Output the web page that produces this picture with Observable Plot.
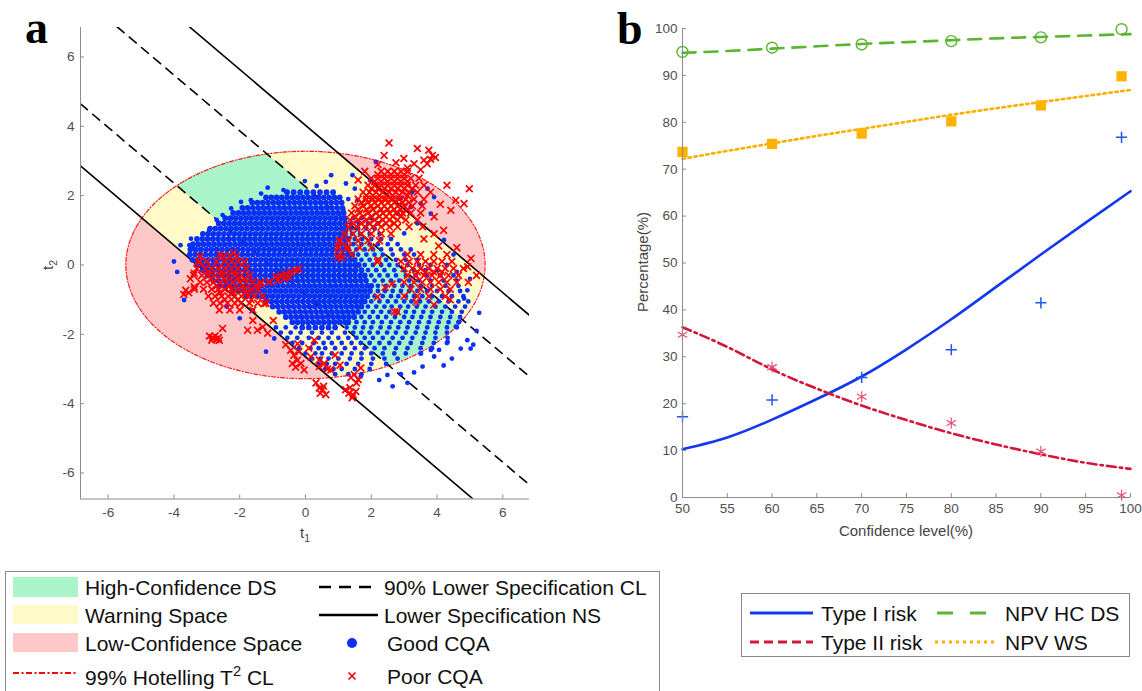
<!DOCTYPE html>
<html><head><meta charset="utf-8">
<script src="https://cdn.jsdelivr.net/npm/d3@7"></script>
<script src="https://cdn.jsdelivr.net/npm/@observablehq/plot@0.6"></script>
<style>
html,body{margin:0;padding:0;background:#fff}
body{width:1142px;height:691px;overflow:hidden;position:relative;font-family:"Liberation Sans",Arial,Helvetica,sans-serif}
.abs{position:absolute}
.letter{font-family:"Liberation Serif","Times New Roman",serif;font-weight:bold;font-size:46px;line-height:1;color:#000}
.axlab{font-size:15px;color:#444;white-space:nowrap;transform:translate(-50%,-50%)}
.axlab.rot{transform:translate(-50%,-50%) rotate(-90deg)}
.leg{border:1px solid #8a8a8a;background:#fff}
.lt{position:absolute;font-size:21px;line-height:1;color:#111;white-space:nowrap;transform:translateY(-50%)}
sub{font-size:70%;vertical-align:-0.35em}
sup{font-size:70%;vertical-align:0.55em}
</style></head><body>
<div id="pa" class="abs" style="left:0;top:0"></div>
<div id="pb" class="abs" style="left:580px;top:0"></div>
<div class="abs letter" style="left:25px;top:5px">a</div>
<div class="abs letter" style="left:617px;top:6px">b</div>
<div class="abs axlab" style="left:305px;top:534px">t<sub>1</sub></div>
<div class="abs axlab rot" style="left:49px;top:265px">t<sub>2</sub></div>
<div class="abs axlab" style="left:906px;top:530px">Confidence level(%)</div>
<div class="abs axlab rot" style="left:642px;top:262px">Percentage(%)</div>

<div class="abs leg" style="left:5px;top:571px;width:653px;height:140px">
  <svg class="abs" style="left:0;top:0" width="653" height="140">
    <rect x="7" y="5" width="65" height="20" fill="#a9f5c9"/>
    <rect x="7" y="33" width="65" height="19" fill="#fffac8"/>
    <rect x="7" y="61" width="65" height="19" fill="#ffc8c8"/>
    <line x1="7" x2="71" y1="101" y2="101" stroke="#ff0000" stroke-width="2" stroke-dasharray="6,2.5,2,2.5"/>
    <line x1="313" x2="372" y1="15" y2="15" stroke="#000" stroke-width="2.6" stroke-dasharray="12,8"/>
    <line x1="313" x2="372" y1="43" y2="43" stroke="#000" stroke-width="2.6"/>
    <circle cx="346" cy="71" r="5" fill="#0a2ff5"/>
    <path d="M342.5,100.5L349.5,107.5M349.5,100.5L342.5,107.5" stroke="#ff0000" stroke-width="1.7"/>
  </svg>
  <div class="lt" style="left:79px;top:15px">High-Confidence DS</div>
  <div class="lt" style="left:79px;top:43px">Warning Space</div>
  <div class="lt" style="left:79px;top:71px">Low-Confidence Space</div>
  <div class="lt" style="left:79px;top:104px">99% Hotelling T<sup>2</sup> CL</div>
  <div class="lt" style="left:378px;top:15px">90% Lower Specification CL</div>
  <div class="lt" style="left:378px;top:43px">Lower Specification NS</div>
  <div class="lt" style="left:381px;top:71px">Good CQA</div>
  <div class="lt" style="left:381px;top:104px">Poor CQA</div>
</div>

<div class="abs leg" style="left:741px;top:593px;width:387px;height:62px">
  <svg class="abs" style="left:0;top:0" width="387" height="62">
    <line x1="8" x2="71" y1="19" y2="19" stroke="#1238f0" stroke-width="3"/>
    <line x1="8" x2="71" y1="48" y2="48" stroke="#d4163c" stroke-width="3" stroke-dasharray="9,5"/>
    <line x1="195" x2="244" y1="19" y2="19" stroke="#5ab530" stroke-width="3" stroke-dasharray="16,17"/>
    <line x1="193" x2="256" y1="48" y2="48" stroke="#ffae00" stroke-width="3" stroke-dasharray="3,4"/>
  </svg>
  <div class="lt" style="left:79px;top:19px">Type I risk</div>
  <div class="lt" style="left:79px;top:48px">Type II risk</div>
  <div class="lt" style="left:263px;top:19px">NPV HC DS</div>
  <div class="lt" style="left:263px;top:48px">NPV WS</div>
</div>

<script>
// ---------------- Panel a data ----------------
const t1Ticks = [-6, -4, -2, 0, 2, 4, 6];
const t2Ticks = [-6, -4, -2, 0, 2, 4, 6];
const t1Domain = [-6.84, 6.81];
const t2Domain = [-6.75, 6.85];
const ellipseSemiAxes = [5.46, 3.28];   // 99% Hotelling T2 limit
const specSlope = -0.805;
const nsIntercepts = [-2.65, 4.03];     // Lower Specification NS
const clIntercepts = [-0.86, 2.26];     // 90% Lower Specification CL

// Good CQA (blue): rows of [t2, "t1 values"]
const goodCoreRows = [
 [2.10, "-0.56 -0.36 -0.16 0.04 0.24 0.44 0.64 0.84"],
 [1.95, "-1.2 -1.04 -0.88 -0.72 -0.56 -0.4 -0.24 -0.08 0.08 0.24 0.4 0.56 0.72 0.88 1.04"],
 [1.80, "-1.62 -1.46 -1.3 -1.14 -0.98 -0.82 -0.66 -0.5 -0.34 -0.18 -0.02 0.14 0.3 0.46 0.62 0.78 0.94 1.1"],
 [1.65, "-1.92 -1.76 -1.6 -1.44 -1.28 -1.12 -0.96 -0.8 -0.64 -0.48 -0.32 -0.16 0 0.16 0.32 0.48 0.64 0.8 0.96 1.12"],
 [1.50, "-2.2 -2.04 -1.88 -1.72 -1.56 -1.4 -1.24 -1.08 -0.92 -0.76 -0.6 -0.44 -0.28 -0.12 0.04 0.2 0.36 0.52 0.68 0.84 1.0 1.16"],
 [1.35, "-2.44 -2.28 -2.12 -1.96 -1.8 -1.64 -1.48 -1.32 -1.16 -1.0 -0.84 -0.68 -0.52 -0.36 -0.2 -0.04 0.12 0.28 0.44 0.6 0.76 0.92 1.08 1.2"],
 [1.20, "-2.64 -2.48 -2.32 -2.16 -2.0 -1.84 -1.68 -1.52 -1.36 -1.2 -1.04 -0.88 -0.72 -0.56 -0.4 -0.24 -0.08 0.08 0.24 0.4 0.56 0.72 0.88 1.04 1.2"],
 [1.05, "-2.9 -2.74 -2.58 -2.42 -2.26 -2.1 -1.94 -1.78 -1.62 -1.46 -1.3 -1.14 -0.98 -0.82 -0.66 -0.5 -0.34 -0.18 -0.02 0.14 0.3 0.46 0.62 0.78 0.94 1.1 1.22"],
 [0.90, "-3.12 -2.96 -2.8 -2.64 -2.48 -2.32 -2.16 -2.0 -1.84 -1.68 -1.52 -1.36 -1.2 -1.04 -0.88 -0.72 -0.56 -0.4 -0.24 -0.08 0.08 0.24 0.4 0.56 0.72 0.88 1.04 1.2"],
 [0.75, "-3.3 -3.14 -2.98 -2.82 -2.66 -2.5 -2.34 -2.18 -2.02 -1.86 -1.7 -1.54 -1.38 -1.22 -1.06 -0.9 -0.74 -0.58 -0.42 -0.26 -0.1 0.06 0.22 0.38 0.54 0.7 0.86 1.02 1.18 1.3"],
 [0.60, "-3.42 -3.26 -3.1 -2.94 -2.78 -2.62 -2.46 -2.3 -2.14 -1.98 -1.82 -1.66 -1.5 -1.34 -1.18 -1.02 -0.86 -0.7 -0.54 -0.38 -0.22 -0.06 0.1 0.26 0.42 0.58 0.74 0.9 1.06 1.22"],
 [0.45, "-3.5 -3.34 -3.18 -3.02 -2.86 -2.7 -2.54 -2.38 -2.22 -2.06 -1.9 -1.74 -1.58 -1.42 -1.26 -1.1 -0.94 -0.78 -0.62 -0.46 -0.3 -0.14 0.02 0.18 0.34 0.5 0.66 0.82 0.98 1.14 1.3"],
 [0.30, "-3.52 -3.36 -3.2 -3.04 -2.88 -2.72 -2.56 -2.4 -2.24 -2.08 -1.92 -1.76 -1.6 -1.44 -1.28 -1.12 -0.96 -0.8 -0.64 -0.48 -0.32 -0.16 0 0.16 0.32 0.48 0.64 0.8 0.96 1.12 1.28 1.42"],
 [0.15, "-3.44 -3.28 -3.12 -2.96 -2.8 -2.64 -2.48 -2.32 -2.16 -2.0 -1.84 -1.68 -1.52 -1.36 -1.2 -1.04 -0.88 -0.72 -0.56 -0.4 -0.24 -0.08 0.08 0.24 0.4 0.56 0.72 0.88 1.04 1.2 1.36 1.5"],
 [0.00, "-3.3 -3.14 -2.98 -2.82 -2.66 -2.5 -2.34 -2.18 -2.02 -1.86 -1.7 -1.54 -1.38 -1.22 -1.06 -0.9 -0.74 -0.58 -0.42 -0.26 -0.1 0.06 0.22 0.38 0.54 0.7 0.86 1.02 1.18 1.34 1.5 1.62"],
 [-0.15, "-3.12 -2.96 -2.8 -2.64 -2.48 -2.32 -2.16 -2.0 -1.84 -1.68 -1.52 -1.36 -1.2 -1.04 -0.88 -0.72 -0.56 -0.4 -0.24 -0.08 0.08 0.24 0.4 0.56 0.72 0.88 1.04 1.2 1.36 1.52 1.7"],
 [-0.30, "-2.98 -2.82 -2.66 -2.5 -2.34 -2.18 -2.02 -1.86 -1.7 -1.54 -1.38 -1.22 -1.06 -0.9 -0.74 -0.58 -0.42 -0.26 -0.1 0.06 0.22 0.38 0.54 0.7 0.86 1.02 1.18 1.34 1.5 1.66 1.8"],
 [-0.45, "-2.8 -2.64 -2.48 -2.32 -2.16 -2.0 -1.84 -1.68 -1.52 -1.36 -1.2 -1.04 -0.88 -0.72 -0.56 -0.4 -0.24 -0.08 0.08 0.24 0.4 0.56 0.72 0.88 1.04 1.2 1.36 1.52 1.68 1.84"],
 [-0.60, "-2.6 -2.44 -2.28 -2.12 -1.96 -1.8 -1.64 -1.48 -1.32 -1.16 -1.0 -0.84 -0.68 -0.52 -0.36 -0.2 -0.04 0.12 0.28 0.44 0.6 0.76 0.92 1.08 1.24 1.4 1.56 1.72 1.88 2.0"],
 [-0.75, "-2.2 -2.04 -1.88 -1.72 -1.56 -1.4 -1.24 -1.08 -0.92 -0.76 -0.6 -0.44 -0.28 -0.12 0.04 0.2 0.36 0.52 0.68 0.84 1.0 1.16 1.32 1.48 1.64 1.8 1.96"],
 [-0.90, "-1.8 -1.64 -1.48 -1.32 -1.16 -1.0 -0.84 -0.68 -0.52 -0.36 -0.2 -0.04 0.12 0.28 0.44 0.6 0.76 0.92 1.08 1.24 1.4 1.56 1.72 1.88"],
 [-1.05, "-1.2 -1.04 -0.88 -0.72 -0.56 -0.4 -0.24 -0.08 0.08 0.24 0.4 0.56 0.72 0.88 1.04 1.2 1.36 1.52 1.68 1.8"],
 [-1.20, "-1.0 -0.84 -0.68 -0.52 -0.36 -0.2 -0.04 0.12 0.28 0.44 0.6 0.76 0.92 1.08 1.24 1.4 1.56 1.7"],
 [-1.35, "-0.8 -0.64 -0.48 -0.32 -0.16 0 0.16 0.32 0.48 0.64 0.8 0.96 1.12 1.28 1.44 1.6"],
 [-1.50, "-0.6 -0.44 -0.28 -0.12 0.04 0.2 0.36 0.52 0.68 0.84 1.0 1.16 1.32 1.48"],
 [-1.65, "-0.4 -0.24 -0.08 0.08 0.24 0.4 0.56 0.72 0.88 1.04 1.2 1.3"],
 [-1.80, "-0.1 0.1 0.3 0.5 0.7 0.9"]
];
const goodSpreadRows = [
 [1.35, "1.45 1.7 2.0"],
 [1.20, "1.4 1.62 1.9 2.2"],
 [1.05, "1.38 1.6 1.85 2.1"],
 [0.90, "1.42 1.66 1.95 2.25"],
 [0.75, "1.5 1.72 2.0 2.3 2.6"],
 [0.60, "1.45 1.7 1.95 2.2 2.5 2.8"],
 [0.45, "1.55 1.8 2.05 2.3 2.6 2.9 3.2"],
 [0.30, "1.6 1.85 2.1 2.35 2.65 3.0 3.3"],
 [0.15, "1.7 1.95 2.2 2.45 2.75 3.05 3.4"],
 [0.00, "1.8 2.05 2.3 2.55 2.8 3.1 3.45 3.8"],
 [-0.15, "1.9 2.15 2.4 2.7 3.0 3.3 3.65 4.0"],
 [-0.30, "2.0 2.25 2.5 2.75 3.05 3.35 3.7 4.1 4.5"],
 [-0.45, "2.1 2.35 2.6 2.85 3.15 3.45 3.8 4.2 4.6"],
 [-0.60, "2.2 2.45 2.7 2.95 3.2 3.5 3.85 4.25 4.65"],
 [-0.75, "2.2 2.42 2.65 2.9 3.15 3.4 3.7 4.0 4.35 4.7"],
 [-0.90, "2.1 2.35 2.6 2.82 3.05 3.3 3.55 3.85 4.15 4.45 4.8"],
 [-1.05, "2.0 2.25 2.5 2.75 3.0 3.22 3.48 3.75 4.05 4.35 4.65 4.95"],
 [-1.20, "1.9 2.15 2.4 2.62 2.88 3.12 3.38 3.65 3.95 4.25 4.55 4.85"],
 [-1.35, "1.8 2.05 2.3 2.55 2.8 3.05 3.3 3.58 3.85 4.15 4.45 4.75"],
 [-1.50, "1.7 1.95 2.2 2.45 2.72 3.0 3.25 3.52 3.8 4.1 4.4 4.7"],
 [-1.65, "1.55 1.8 2.05 2.32 2.6 2.88 3.15 3.45 3.75 4.05 4.35 4.65"],
 [-1.80, "-0.9 -0.6 -0.3 1.25 1.5 1.75 2.0 2.28 2.55 2.82 3.1 3.4 3.7 4.0 4.3 4.6"],
 [-1.95, "-0.75 -0.45 -0.15 0.2 0.5 0.8 1.2 1.45 1.7 1.95 2.2 2.48 2.75 3.05 3.35 3.65 3.95 4.3"],
 [-2.10, "-0.55 -0.25 0.1 0.4 0.7 1.0 1.3 1.55 1.8 2.05 2.35 2.65 2.95 3.25 3.6 3.95 4.32"],
 [-2.25, "-0.4 -0.1 0.25 0.55 0.8 1.1 1.4 1.68 1.95 2.25 2.55 2.85 3.2 3.55 3.9 4.3"],
 [-2.40, "-0.2 0.15 0.4 0.6 0.9 1.2 1.5 1.8 2.1 2.4 2.75 3.1 3.5 3.85"],
 [-2.55, "0.0 0.3 0.5 0.8 1.1 1.4 1.7 2.0 2.35 2.7 3.05 3.5"],
 [-2.70, "0.2 0.45 0.7 1.0 1.35 1.7 2.05 2.4 2.8"],
 [-2.85, "0.4 0.65 0.9 1.25 1.6 2.0 2.45"],
 [-3.00, "0.6 0.85 1.1 1.5 1.95"],
 [-3.15, "0.9 1.3 1.7"]
];
const goodScatter = [
 [0.78,2.59],[1.43,2.59],[0.62,2.4],[1.23,2.35],[-0.02,2.42],[0.34,2.28],[-1.15,2.23],[-1.35,2.06],
 [-0.67,2.16],[-1.96,1.82],[-1.66,1.87],[-2.26,1.63],[-2.52,1.44],[-2.7,1.3],[-2.93,1.0],[-3.48,0.76],
 [-3.53,0.57],[-3.8,0.57],[-3.43,0.48],[2.14,2.97],[1.99,2.44],[1.58,1.87],[2.9,1.92],[3.2,1.67],
 [3.5,1.77],[3.71,2.2],[3.91,1.96],[3.81,1.48],[4.21,0.72],[3.0,0.91],[3.4,1.2],[2.8,1.48],[3.25,2.11],
 [-3.69,-1.01],[-2.0,-1.54],[-1.2,-2.5],[-0.95,-2.12],[-1.6,-1.3],[-2.4,-1.2],[-4.0,0.1],[-3.9,-0.2],
 [4.5,0.3],[4.6,-0.2],[4.3,0.0],[5.0,-0.4],[5.28,-1.38],[4.92,-2.17],[5.02,-2.41],[4.72,-2.41],
 [4.32,-2.22],[4.06,-2.45],[3.81,-2.45],[3.91,-2.64],[3.56,-2.93],[3.51,-2.55],[2.49,-3.17],[2.65,-3.5],
 [3.1,-3.4],[1.68,-3.22],[2.24,-3.32],[4.57,-1.78],[4.67,-1.64],[4.82,-0.97],[4.92,-0.73],[5.2,-1.9],
 [5.1,-2.3],[4.45,-2.7],[4.2,-2.9],[3.3,-3.1],[2.9,-3.15],[1.15,1.6],[1.3,1.9],[1.5,2.2]
];

// Poor CQA (red x)
const poorRows = [
 [2.7, "2.3 2.5 2.7 2.9 3.1"],
 [2.6, "2.2 2.4 2.6 2.8 3.0"],
 [2.5, "2.0 2.2 2.4 2.6 2.8 3.0 3.2 3.45"],
 [2.4, "2.1 2.3 2.5 2.7 2.9 3.1"],
 [2.3, "1.9 2.1 2.3 2.5 2.7 2.9 3.1 3.35 3.6"],
 [2.2, "2.0 2.2 2.4 2.6 2.8 3.0 3.25"],
 [2.1, "1.75 1.95 2.15 2.35 2.55 2.75 2.95 3.15 3.4"],
 [2.0, "1.85 2.05 2.25 2.45 2.65 2.85 3.1"],
 [1.9, "1.6 1.85 2.05 2.25 2.45 2.65 2.85 3.05 3.3 3.6"],
 [1.8, "1.7 1.9 2.1 2.3 2.5 2.7 2.95 3.15"],
 [1.7, "1.5 1.75 2.0 2.2 2.4 2.6 2.8 3.0 3.25 3.55"],
 [1.6, "1.6 1.85 2.05 2.3 2.5 2.7 2.9 3.1"],
 [1.5, "1.4 1.65 1.9 2.15 2.35 2.55 2.75 2.95 3.2 3.5"],
 [1.4, "1.5 1.75 2.0 2.25 2.45 2.65 2.9"],
 [1.3, "1.35 1.6 1.85 2.1 2.35 2.55 2.8 3.05 3.4"],
 [1.2, "1.45 1.7 1.95 2.2 2.45 2.7"],
 [1.1, "1.3 1.55 1.8 2.05 2.3 2.55 2.8 3.15"],
 [0.9, "1.2 1.45 1.7 2.0 2.3 2.6"],
 [0.7, "1.05 1.3 1.6 1.9 2.25"],
 [0.5, "1.0 1.3 1.65 2.0"],
 [0.3, "1.05 1.4 3.1 3.5 3.9 4.3"],
 [0.1, "2.9 3.15 3.4 3.65 3.9 4.15 4.45"],
 [-0.1, "3.0 3.25 3.5 3.75 4.0 4.25 4.5 4.8"],
 [-0.2, "3.4 3.65 3.9 4.15"],
 [-0.3, "3.1 3.35 3.6 3.85 4.1 4.35 4.65"],
 [-0.5, "3.0 3.3 3.55 3.8 4.05 4.3 4.6 4.95"],
 [-0.7, "3.2 3.5 3.8 4.1 4.4"],
 [-0.9, "3.0 3.4 3.75 4.25"],
 [0.25, "-3.2 -2.5 -2.3 -2.1"],
 [0.1, "-3.25 -3.0 -2.7 -2.45 -2.25 -2.05 -1.85"],
 [-0.1, "-3.3 -3.05 -2.85 -2.65 -2.45 -2.25 -2.05 -1.8"],
 [-0.2, "-2.95 -2.55 -2.15"],
 [-0.3, "-3.4 -3.15 -2.95 -2.75 -2.55 -2.35 -2.15 -1.95 -1.7"],
 [-0.4, "-2.85 -2.45 -2.05 -1.85"],
 [-0.5, "-3.2 -3.0 -2.8 -2.6 -2.4 -2.2 -2.0 -1.8 -1.6 -1.36 -1.1"],
 [-0.6, "-2.7 -2.3 -1.9 -1.5"],
 [-0.7, "-3.38 -3.1 -2.85 -2.65 -2.45 -2.25 -2.05 -1.85 -1.65 -1.45"],
 [-0.8, "-2.6 -2.2 -1.8"],
 [-0.9, "-2.95 -2.75 -2.55 -2.35 -2.15 -1.95 -1.75 -1.55 -1.3"],
 [-1.0, "-2.45 -2.05 -1.65"],
 [-1.1, "-2.8 -2.6 -2.37 -2.15 -1.96 -1.7 -1.45 -1.2"],
 [-1.3, "-2.62 -2.3 -2.0 -1.6"]
];
const poorScatter = [
 [2.54,3.52],[2.39,3.16],[2.99,3.07],[3.4,3.36],[3.75,3.31],[3.86,3.16],[3.6,3.02],[3.7,2.92],[3.3,2.92],
 [3.95,3.1],[3.8,3.05],[2.2,2.9],[2.75,2.95],[3.1,2.8],[3.5,2.75],[1.8,2.7],[1.6,2.45],
 [4.98,2.2],[4.57,1.87],[4.42,1.58],[4.82,1.77],[4.2,1.0],[3.91,1.39],[3.91,0.9],[3.56,1.1],[4.1,1.75],
 [3.8,2.1],[4.3,2.3],[3.6,0.75],[4.05,0.55],
 [4.93,-0.05],[5.03,0.19],[5.2,-0.3],[2.7,-1.35],[3.36,-1.07],[2.19,-0.92],[2.19,0.09],[2.63,-0.55],
 [2.42,-0.65],[2.79,-1.35],[2.21,0.15],[4.6,0.5],[4.4,-1.0],[3.9,-1.15],
 [-3.64,-0.73],[-3.38,-0.63],[-3.38,-0.24],[-3.23,0.09],[-3.7,-0.85],[-3.55,-0.8],[-3.5,-0.4],[-2.6,0.3],[-2.2,0.35],
 [-0.9,-0.34],[-0.75,-0.3],[-0.6,-0.25],[-0.45,-0.2],[-0.3,-0.15],[-0.2,-0.12],[-0.65,-0.4],[-0.5,-0.35],[-0.84,-0.45],
 [-1.26,-1.12],[-1.1,-0.49],[-1.36,-0.53],[0.98,0.52],[0.98,0.23],[1.03,0.71],[1.1,0.2],[1.25,0.5],
 [-2.92,-2.05],[-2.82,-2.1],[-2.72,-2.15],[-2.65,-2.1],[-2.85,-2.17],[-2.75,-2.05],[-2.62,-2.17],
 [-2.52,-1.83],[-1.76,-1.88],[-1.46,-1.88],[-1.3,-1.79],[-1.15,-1.97],[-0.98,-1.6],[-1.6,-1.6],
 [-0.45,-2.46],[-0.35,-2.6],[-0.25,-2.75],[-0.4,-2.84],[-0.2,-2.5],[-0.14,-2.84],[-0.3,-2.95],[-0.04,-3.03],
 [0.16,-2.65],[-0.24,-2.27],[0.27,-2.17],[0.42,-2.74],[0.42,-2.93],[0.57,-2.84],[0.67,-3.0],[0.77,-3.03],
 [0.32,-3.4],[0.42,-3.55],[0.52,-3.6],[0.62,-3.74],[0.45,-3.7],[0.55,-3.5],[1.22,-3.6],[1.32,-3.7],
 [1.42,-3.83],[1.53,-3.65],[1.35,-3.54],[1.45,-3.75],[1.38,-3.25],[1.48,-3.16],[1.68,-2.97],[1.05,-2.89],
 [1.55,-3.4],[1.6,-3.3],[-0.6,-2.3],[0.1,-2.4],[0.9,-2.6]
];

// ---------------- Panel b data ----------------
const confTicks = [50, 55, 60, 65, 70, 75, 80, 85, 90, 95, 100];
const pctTicks = [0, 10, 20, 30, 40, 50, 60, 70, 80, 90, 100];
const confLevels = [50, 60, 70, 80, 90, 99];
const typeIRisk = [17.2, 20.8, 25.6, 31.5, 41.5, 76.8];
const typeIIRisk = [34.7, 27.8, 21.5, 15.9, 9.8, 0.5];
const npvHCDS = [95.0, 95.9, 96.6, 97.3, 98.1, 99.85];
const npvWS = [73.7, 75.4, 77.6, 80.2, 83.6, 89.8];
const fitLevels = [50, 55, 60, 65, 70, 75, 80, 85, 90, 95, 100];
const typeIFit = [10.3, 12.8, 16.6, 21.0, 25.8, 31.6, 38.0, 44.9, 51.8, 58.6, 65.3];
const typeIIFit = [36.3, 32.1, 27.3, 23.2, 19.6, 16.5, 13.7, 11.3, 9.2, 7.4, 6.1];
const npvHCFit = [94.8, 95.2, 95.7, 96.2, 96.7, 97.1, 97.5, 97.9, 98.2, 98.5, 98.8];
const npvWSFit = [72.2, 73.9, 75.5, 77.1, 78.6, 80.1, 81.6, 83.0, 84.3, 85.6, 86.9];

// ---------------- build tables ----------------
const expandRows = rows => rows.flatMap(([y, s]) => s.trim().split(/\s+/).map(v => ({t1: +v, t2: y})));
const goodCore = expandRows(goodCoreRows);
const goodSpread = [...expandRows(goodSpreadRows), ...goodScatter.map(([a, b]) => ({t1: a, t2: b}))];
const poor = [...expandRows(poorRows), ...poorScatter.map(([a, b]) => ({t1: a, t2: b}))];

const [ea, eb] = ellipseSemiAxes;
const ellH = x => eb * Math.sqrt(Math.max(0, 1 - (x / ea) ** 2));
const xs = d3.range(-ea, ea, 0.005).concat([ea]);
const band = (c1, c2) => xs.map(x => {
  const lo = Math.max(-ellH(x), specSlope * x + c1);
  let hi = Math.min(ellH(x), specSlope * x + c2);
  if (hi < lo) hi = lo;
  return {x, lo, hi};
});
const ellOutline = d3.range(0, 2 * Math.PI + 0.001, Math.PI / 180).map(a => ({x: ea * Math.cos(a), y: eb * Math.sin(a)}));
const lineSeg = cs => cs.flatMap((c, i) => t1Domain.map(x => ({id: i, x, y: specSlope * x + c})));

const axisStyle = {fontFamily: '"Liberation Sans", Arial, Helvetica, sans-serif', fontSize: "13.5px", color: "#505050", background: "transparent", overflow: "visible"};
const axisGray = "#8c8c8c";

// panel a: inward tick length in data units (about 4px)
const aTickX = 4 / 34.67, aTickY = 4 / 32.9;
const pa = Plot.plot({
  width: 560, height: 560,
  marginLeft: 80, marginRight: 31, marginTop: 27, marginBottom: 61.5,
  style: axisStyle,
  x: {domain: t1Domain, ticks: t1Ticks, tickFormat: d => String(d), tickSize: 0, tickPadding: 8, label: null},
  y: {domain: t2Domain, ticks: t2Ticks, tickFormat: d => String(d), tickSize: 0, tickPadding: 6, label: null},
  marks: [
    Plot.areaY(band(-20, 20), {x: "x", y1: "lo", y2: "hi", fill: "#ffc8c8"}),
    Plot.areaY(band(nsIntercepts[0], clIntercepts[0]), {x: "x", y1: "lo", y2: "hi", fill: "#fffac8"}),
    Plot.areaY(band(clIntercepts[1], nsIntercepts[1]), {x: "x", y1: "lo", y2: "hi", fill: "#fffac8"}),
    Plot.areaY(band(clIntercepts[0], clIntercepts[1]), {x: "x", y1: "lo", y2: "hi", fill: "#a9f5c9"}),
    Plot.line(ellOutline, {x: "x", y: "y", stroke: "#ff1a1a", strokeWidth: 1.2, strokeDasharray: "4,2,1,2"}),
    Plot.line(lineSeg(clIntercepts), {x: "x", y: "y", z: "id", stroke: "#000", strokeWidth: 1.6, strokeDasharray: "9,7", clip: true}),
    Plot.line(lineSeg(nsIntercepts), {x: "x", y: "y", z: "id", stroke: "#000", strokeWidth: 1.6, clip: true}),
    Plot.dot(goodCore, {x: "t1", y: "t2", r: 2.9, fill: "#0a2ff5", stroke: null}),
    Plot.dot(goodSpread, {x: "t1", y: "t2", r: 2.4, fill: "#0a2ff5", stroke: null}),
    Plot.dot(poor, {x: "t1", y: "t2", symbol: "times", r: 3.2, stroke: "#ff0000", strokeWidth: 1.7}),
    Plot.ruleX([t1Domain[0]], {stroke: axisGray}),
    Plot.ruleY([t2Domain[0]], {stroke: axisGray}),
    Plot.ruleX(t1Ticks, {y1: t2Domain[0], y2: t2Domain[0] + aTickX, stroke: axisGray}),
    Plot.ruleY(t2Ticks, {x1: t1Domain[0], x2: t1Domain[0] + aTickY, stroke: axisGray})
  ]
});
document.getElementById("pa").appendChild(pa);

const fitRows = (ys) => fitLevels.map((x, i) => ({x, y: ys[i]}));
const ptRows = (ys) => confLevels.map((x, i) => ({x, y: ys[i]}));

const pb = Plot.plot({
  width: 562, height: 560,
  marginLeft: 102, marginRight: 12, marginTop: 28, marginBottom: 63,
  style: axisStyle,
  x: {domain: [50, 100], ticks: confTicks, tickSize: 0, tickPadding: 6, label: null},
  y: {domain: [0, 100], ticks: pctTicks, tickSize: 0, tickPadding: 5, label: null},
  marks: [
    Plot.line(fitRows(npvHCFit), {x: "x", y: "y", stroke: "#5ab530", strokeWidth: 2.6, strokeDasharray: "13,9", curve: "natural"}),
    Plot.line(fitRows(npvWSFit), {x: "x", y: "y", stroke: "#ffae00", strokeWidth: 2.6, strokeDasharray: "2.5,3.5", curve: "natural"}),
    Plot.line(fitRows(typeIFit), {x: "x", y: "y", stroke: "#1238f0", strokeWidth: 2.6, curve: "natural"}),
    Plot.line(fitRows(typeIIFit), {x: "x", y: "y", stroke: "#d4163c", strokeWidth: 2.6, strokeDasharray: "9,4,2.5,4", curve: "natural"}),
    Plot.dot(ptRows(npvHCDS), {x: "x", y: "y", r: 5.5, stroke: "#5ab530", fill: "none", strokeWidth: 1.4}),
    Plot.dot(ptRows(npvWS), {x: "x", y: "y", symbol: "square", r: 5.8, fill: "#ffb300", stroke: null}),
    Plot.dot(ptRows(typeIRisk), {x: "x", y: "y", symbol: "plus", r: 3.7, stroke: "#2255ee", strokeWidth: 1.5}),
    Plot.dot(ptRows(typeIIRisk), {x: "x", y: "y", symbol: "asterisk", r: 5.2, stroke: "#e94e6e", strokeWidth: 1.2}),
    Plot.ruleX([50], {stroke: axisGray}),
    Plot.ruleY([0], {stroke: axisGray}),
    Plot.ruleX(confTicks, {y1: 0, y2: 0.85, stroke: axisGray}),
    Plot.ruleY(pctTicks, {x1: 50, x2: 50.45, stroke: axisGray})
  ]
});
document.getElementById("pb").appendChild(pb);
</script>
</body></html>
